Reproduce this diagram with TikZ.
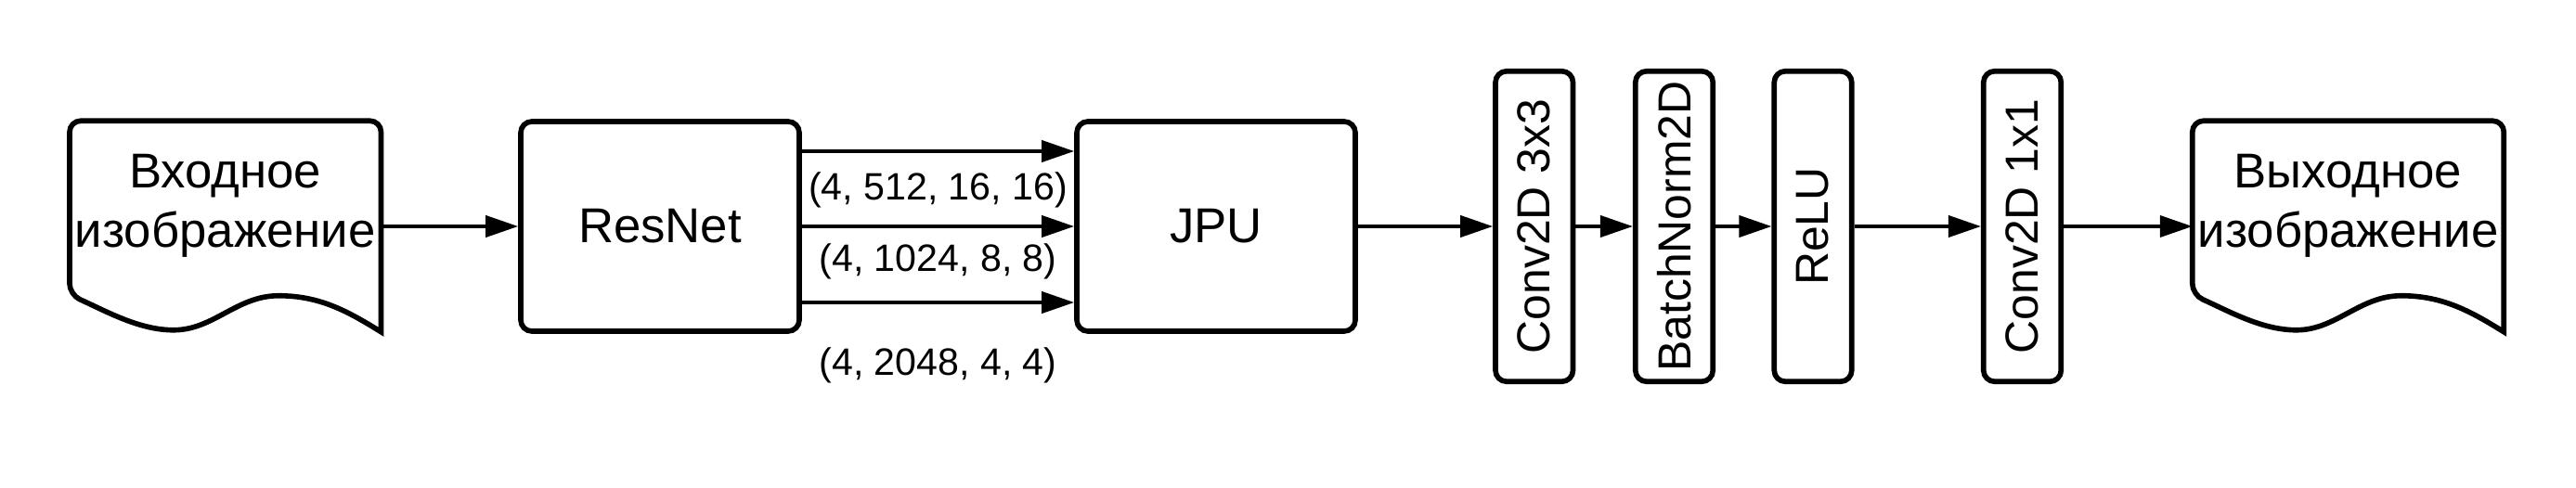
\documentclass[tikz,border=0pt]{standalone}
\usepackage{fontspec}
\setmainfont{Liberation Sans}
\usepackage{graphicx}
\usetikzlibrary{arrows.meta}

\tikzset{
  block/.style={draw, line width=1.6pt, rounded corners=0.12cm, minimum width=3cm, minimum height=2.26cm, font=\fontsize{15}{17}\selectfont},
  layer/.style={draw, line width=1.6pt, rounded corners=0.12cm, minimum width=0.835cm, minimum height=3.345cm, inner sep=0pt, font=\fontsize{14.2}{17}\selectfont},
  docbox/.style={minimum width=3.355cm, minimum height=2.275cm, inner sep=0pt, outer sep=0pt},
  doctext/.style={align=center, inner sep=0pt, font=\fontsize{15}{18.1}\selectfont},
  dimlabel/.style={inner sep=0pt, font=\fontsize{11.7}{14}\selectfont},
  arr/.style={line width=1.1pt, -{Triangle[length=0.35cm,width=0.23cm]}}
}

\begin{document}
\begin{tikzpicture}
\useasboundingbox (0,0) rectangle (27.75,5.25);
% documents
\node[docbox] (in) at (2.4275,2.81) {};
\node[docbox] (out) at (25.295,2.81) {};
\foreach \d in {in,out}
  \draw[line width=1.6pt, shift={(\d.south west)}]
    (3.355,0) [rounded corners=0.12cm] -- (3.355,2.275) -- (0,2.275) -- (0,0.40)
    [sharp corners] .. controls (0.40,0.22) and (0.75,0.02) .. (1.12,0.02)
    .. controls (1.55,0.02) and (1.8,0.39) .. (2.25,0.39)
    .. controls (2.7,0.39) and (3.0,0.22) .. (3.355,0) -- cycle;
\node[doctext] (intext) at ([yshift=0.22cm]in.center) {Входное\\изображение};
\node[doctext] (outtext) at ([yshift=0.22cm]out.center) {Выходное\\изображение};
% blocks
\node[block] (resnet) at (7.11,2.81) {ResNet};
\node[block] (jpu) at (13.10,2.81) {JPU};
\node[layer] (conv3) at (16.5275,2.81) {\rotatebox{90}{Conv2D 3x3}};
\node[layer] (bn) at (18.035,2.81) {\rotatebox{90}{BatchNorm2D}};
\node[layer] (relu) at (19.53,2.81) {\rotatebox{90}{ReLU}};
\node[layer] (conv1) at (21.785,2.81) {\rotatebox{90}{Conv2D 1x1}};
% arrows
\draw[arr] (in.east) -- (resnet.west);
\draw[arr] ([yshift=0.81cm]resnet.east) -- ([yshift=0.81cm]jpu.west)
  node[dimlabel, midway, yshift=-0.42cm] (dim1) {(4, 512, 16, 16)};
\draw[arr] (resnet.east) -- (jpu.west)
  node[dimlabel, midway, yshift=-0.38cm] (dim2) {(4, 1024, 8, 8)};
\draw[arr] ([yshift=-0.82cm]resnet.east) -- ([yshift=-0.82cm]jpu.west)
  node[dimlabel, midway, yshift=-0.675cm] (dim3) {(4, 2048, 4, 4)};
\draw[arr] (jpu.east) -- (conv3.west);
\draw[arr] (conv3.east) -- (bn.west);
\draw[arr] (bn.east) -- (relu.west);
\draw[arr] (relu.east) -- (conv1.west);
\draw[arr] (conv1.east) -- (out.west);
\end{tikzpicture}
\end{document}
